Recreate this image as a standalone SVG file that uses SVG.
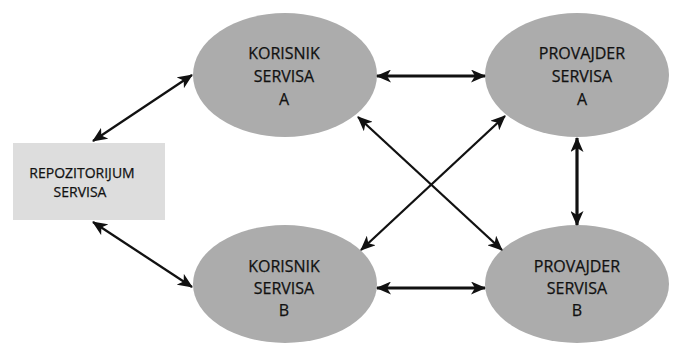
<svg xmlns="http://www.w3.org/2000/svg" width="677" height="345" viewBox="0 0 677 345">
<style>
.node{fill:#acacac;}
.repo{fill:#dddddd;}
.lbl{font-family:"Open Sans","Liberation Sans",sans-serif;font-size:16px;fill:#111;text-anchor:middle;stroke:#111;stroke-width:0.25;}
.small{font-size:14px;}
.c{stroke:#111;fill:none;stroke-width:2.3;marker-start:url(#ah);marker-end:url(#ah);}
.thick{stroke-width:3.2;}
</style>
<defs>
<marker id="ah" viewBox="0 0 15 13" refX="14" refY="6.5" markerWidth="15" markerHeight="13" markerUnits="userSpaceOnUse" orient="auto-start-reverse">
<path d="M0,0 L15,6.5 L0,13 L4,6.5 z" fill="#111"/>
</marker>
</defs>
<g id="repozitorijum">
<rect class="repo" x="13" y="143" width="152" height="77"/>
<text class="lbl small" x="82" y="178">REPOZITORIJUM</text>
<text class="lbl small" x="80" y="197">SERVISA</text>
</g>
<g id="korisnikA">
<ellipse class="node" cx="285" cy="75" rx="92" ry="62"/>
<text class="lbl" x="284" y="59">KORISNIK</text>
<text class="lbl" x="284" y="82">SERVISA</text>
<text class="lbl" x="284" y="105">A</text>
</g>
<g id="provajderA">
<ellipse class="node" cx="577" cy="75" rx="92" ry="62"/>
<text class="lbl" x="582" y="59">PROVAJDER</text>
<text class="lbl" x="582" y="82">SERVISA</text>
<text class="lbl" x="582" y="105">A</text>
</g>
<g id="korisnikB">
<ellipse class="node" cx="285" cy="284" rx="92" ry="59"/>
<text class="lbl" x="284" y="272">KORISNIK</text>
<text class="lbl" x="284" y="294">SERVISA</text>
<text class="lbl" x="284" y="316">B</text>
</g>
<g id="provajderB">
<ellipse class="node" cx="577" cy="284" rx="92" ry="59"/>
<text class="lbl" x="577" y="272">PROVAJDER</text>
<text class="lbl" x="577" y="294">SERVISA</text>
<text class="lbl" x="577" y="316">B</text>
</g>
<g id="connectors">
<line class="c" x1="93" y1="141" x2="192" y2="75"/>
<line class="c" x1="93" y1="222" x2="192" y2="287"/>
<line class="c thick" x1="377" y1="76" x2="485" y2="76"/>
<line class="c thick" x1="377" y1="288" x2="485" y2="288"/>
<line class="c thick" x1="577" y1="138" x2="577" y2="225"/>
<line class="c" x1="358" y1="117" x2="502" y2="250"/>
<line class="c" x1="505" y1="116" x2="361" y2="250"/>
</g>
</svg>
